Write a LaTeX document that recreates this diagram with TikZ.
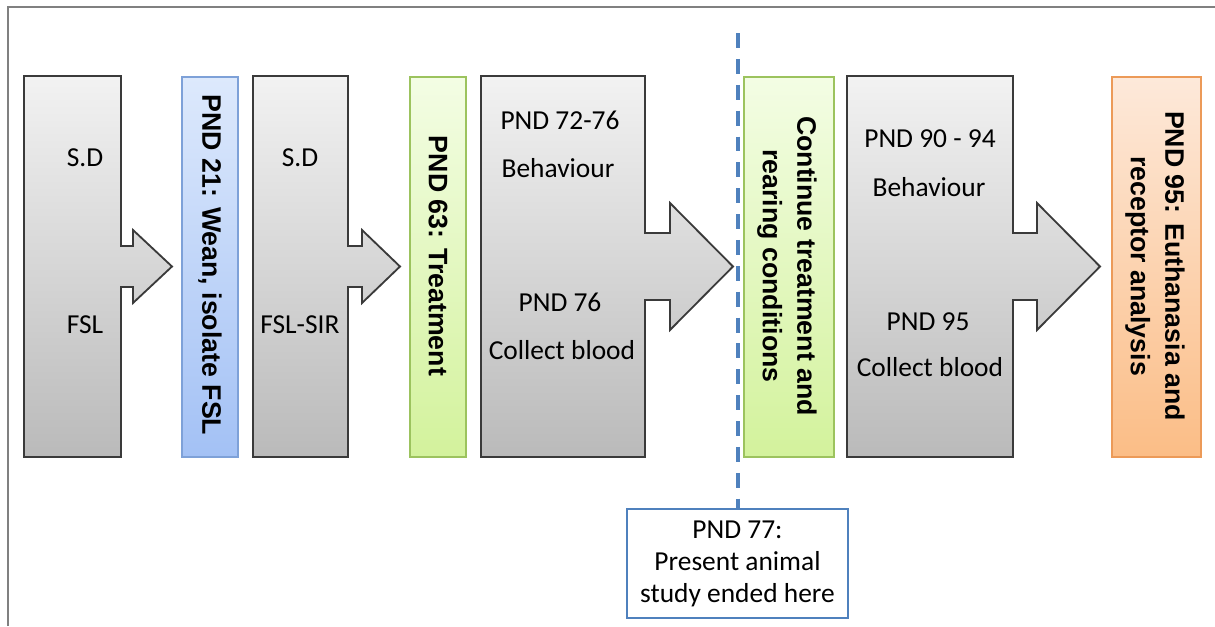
\documentclass[tikz,border=0pt]{standalone}
\usepackage{fontspec}
\setmainfont{Carlito}
\newfontfamily\barfont{Liberation Sans}
\usepackage{tikz}
\usetikzlibrary{positioning,calc}

\definecolor{grayTop}{HTML}{F2F2F2}
\definecolor{grayBot}{HTML}{BABABA}
\definecolor{grayEdge}{HTML}{3A3A3A}
\definecolor{blueTop}{HTML}{DDE9FC}
\definecolor{blueBot}{HTML}{A3C1F5}
\definecolor{blueEdge}{HTML}{7EA1D8}
\definecolor{greenTop}{HTML}{F3FDE4}
\definecolor{greenBot}{HTML}{D3F29C}
\definecolor{greenEdge}{HTML}{9CC35E}
\definecolor{orangeTop}{HTML}{FDE9DA}
\definecolor{orangeBot}{HTML}{FBBD86}
\definecolor{orangeEdge}{HTML}{EC9A58}
\definecolor{cutBlue}{HTML}{4F81BD}
\definecolor{frameGray}{HTML}{808080}

\begin{document}
\begin{tikzpicture}[x=0.025cm, y=-0.025cm, line join=miter,
	grayblock/.style={draw=grayEdge, line width=1.3pt, top color=grayTop, bottom color=grayBot},
	bluebar/.style={draw=blueEdge, line width=1pt, top color=blueTop, bottom color=blueBot},
	greenbar/.style={draw=greenEdge, line width=1pt, top color=greenTop, bottom color=greenBot},
	orangebar/.style={draw=orangeEdge, line width=1pt, top color=orangeTop, bottom color=orangeBot},
	label/.style={inner sep=0pt, font=\fontsize{19.5}{23}\selectfont},
	bartext/.style={inner sep=0pt, rotate=-90, align=center, font=\barfont\bfseries\fontsize{19}{24.5}\selectfont},
	endbox/.style={draw=cutBlue, line width=1.1pt, fill=white, align=center, minimum width=5.525cm, minimum height=2.725cm, font=\fontsize{19.5}{22.7}\selectfont},
	cutline/.style={draw=cutBlue, line width=2.4pt, dash pattern=on 10.6pt off 7.8pt}]
	\useasboundingbox (0,0) rectangle (1215,626);
	% frame
	\draw [frameGray, line width=1.1pt] (8,626) -- (8,7) -- (1215,7);
	% arrow blocks
	\path [grayblock] (24,76) -- (121,76) -- (121,246) -- (133,246) -- (133,230) -- (172,266.5) -- (133,303) -- (133,287) -- (121,287) -- (121,457) -- (24,457) -- cycle;
	\path [grayblock] (253,76) -- (348,76) -- (348,246) -- (362,246) -- (362,230) -- (400,266.5) -- (362,303) -- (362,287) -- (348,287) -- (348,457) -- (253,457) -- cycle;
	\path [grayblock] (481,76) -- (645,76) -- (645,233) -- (670,233) -- (670,203) -- (733,266.5) -- (670,330) -- (670,300) -- (645,300) -- (645,457) -- (481,457) -- cycle;
	\path [grayblock] (847,76) -- (1013,76) -- (1013,233) -- (1037,233) -- (1037,203) -- (1100,266.5) -- (1037,330) -- (1037,300) -- (1013,300) -- (1013,457) -- (847,457) -- cycle;
	% stage bars
	\path [bluebar] (182,77) rectangle (238,457);
	\path [greenbar] (410,77) rectangle (466,457);
	\path [greenbar] (744,77) rectangle (834,457);
	\path [orangebar] (1112,77) rectangle (1201,457);
	% block texts
	\node [label] (sdA) at (85,158) {S.D};
	\node [label] (fslA) at (85,325) {FSL};
	\node [label] (sdB) at (300,158) {S.D};
	\node [label] (fslB) at (300,325) {FSL-SIR};
	\node [label] (pndA) at (560,120) {PND 72-76};
	\node [label] (behA) at (558,168) {Behaviour};
	\node [label] (pndB) at (560,302) {PND 76};
	\node [label] (bloodA) at (562,350) {Collect blood};
	\node [label] (pndC) at (930,139) {PND 90 - 94};
	\node [label] (behB) at (929,187) {Behaviour};
	\node [label] (pndD) at (928,322) {PND 95};
	\node [label] (bloodB) at (930,367) {Collect blood};
	% bar texts
	\node [bartext] (wean) at (210,265) {PND 21: Wean, isolate FSL};
	\node [bartext] (treat) at (438,256) {PND 63: Treatment};
	\node [bartext] (cont) at (787,266) {Continue treatment and\\rearing conditions};
	\node [bartext] (euth) at (1155,266) {PND 95: Euthanasia and\\receptor analysis};
	% end of study
	\node [endbox] (ended) at (737.5,563.5) {PND 77:\\Present animal\\study ended here};
	\coordinate (cut) at (738,33);
	\draw [cutline] (cut) -- (cut |- ended.north);
\end{tikzpicture}
\end{document}
